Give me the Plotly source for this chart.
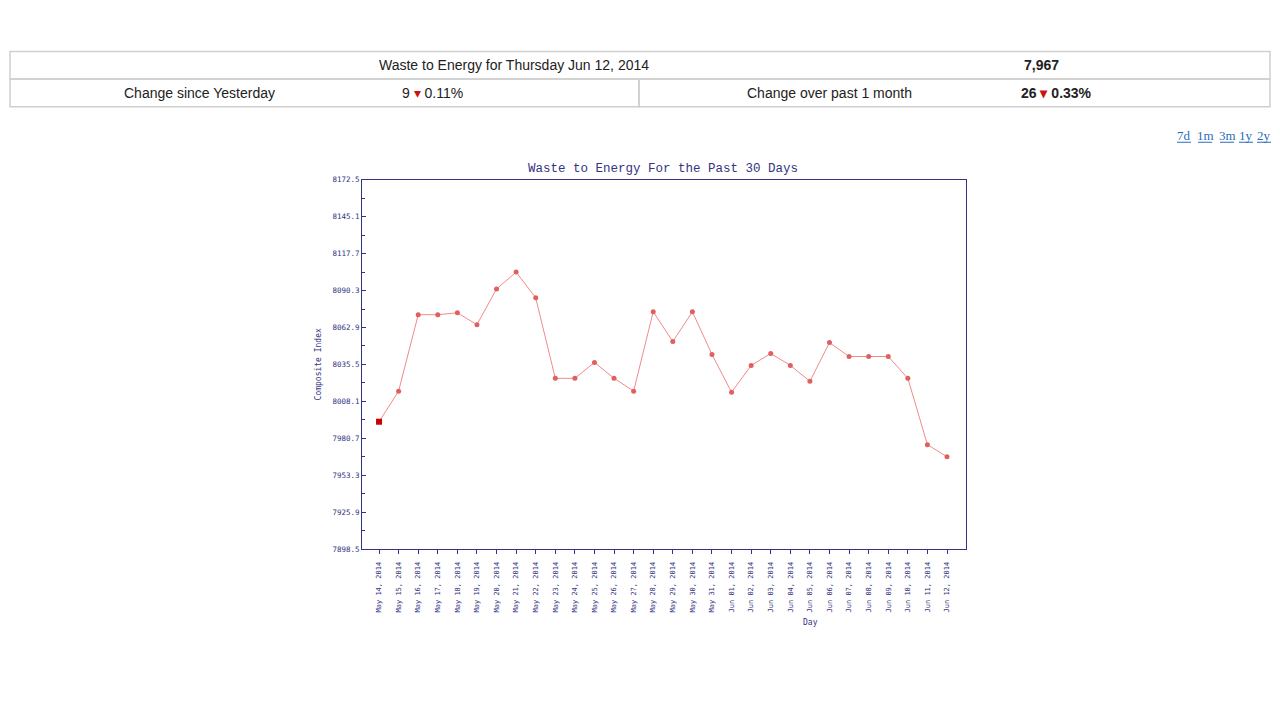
import plotly.graph_objects as go

# ---- data ----
days = ["May 14, 2014", "May 15, 2014", "May 16, 2014", "May 17, 2014", "May 18, 2014",
        "May 19, 2014", "May 20, 2014", "May 21, 2014", "May 22, 2014", "May 23, 2014",
        "May 24, 2014", "May 25, 2014", "May 26, 2014", "May 27, 2014", "May 28, 2014",
        "May 29, 2014", "May 30, 2014", "May 31, 2014", "Jun 01, 2014", "Jun 02, 2014",
        "Jun 03, 2014", "Jun 04, 2014", "Jun 05, 2014", "Jun 06, 2014", "Jun 07, 2014",
        "Jun 08, 2014", "Jun 09, 2014", "Jun 10, 2014", "Jun 11, 2014", "Jun 12, 2014"]
values = [7993.0, 8015.7, 8072.4, 8072.4, 8073.8, 8065.0, 8091.5, 8104.0, 8084.9, 8025.2,
          8025.2, 8037.0, 8025.2, 8015.7, 8074.6, 8052.5, 8074.6, 8042.9, 8014.9, 8034.8,
          8043.6, 8034.8, 8023.0, 8051.7, 8041.4, 8041.4, 8041.4, 8025.2, 7976.0, 7967.0]
y_ticks = [7898.5, 7925.9, 7953.3, 7980.7, 8008.1, 8035.5, 8062.9, 8090.3, 8117.7, 8145.1, 8172.5]
range_links = ["7d", "1m", "3m", "1y", "2y"]

W, H = 1280, 720
def px(x): return x / W
def py(y): return 1 - y / H

navy = "#33337f"
fig = go.Figure()
fig.add_trace(go.Scatter(
    x=days, y=values, mode="lines+markers",
    line=dict(color="#f08a8a", width=1),
    marker=dict(color="#e06060", size=5, symbol="circle"),
    hoverinfo="x+y", showlegend=False))
fig.add_trace(go.Scatter(
    x=days[:1], y=values[:1], mode="markers",
    marker=dict(color="#cc0000", size=6, symbol="square"),
    showlegend=False, hoverinfo="skip"))

fig.update_layout(
    width=W, height=H, margin=dict(l=0, r=0, t=0, b=0),
    paper_bgcolor="white", plot_bgcolor="white",
    xaxis=dict(domain=[px(362), px(966)], type="category", range=[-0.87, 29.97],
               showgrid=False, showline=True, linecolor=navy, linewidth=1, mirror=True,
               ticks="outside", ticklen=4, tickcolor=navy, tickangle=-90,
               ticklabelstandoff=5,
               tickfont=dict(family="DejaVu Sans Mono", size=7, color=navy),
               fixedrange=True),
    yaxis=dict(domain=[py(552), py(178)], range=[7898.5, 8172.5],
               tickvals=y_ticks, ticktext=[f"{v:.1f}" for v in y_ticks],
               showgrid=False, showline=True, linecolor=navy, linewidth=1, mirror=True,
               ticks="inside", ticklen=4, tickcolor=navy,
               minor=dict(ticks="inside", ticklen=3, tickcolor=navy, dtick=13.7, tick0=7898.5),
               tickfont=dict(family="DejaVu Sans Mono", size=7.5, color=navy),
               zeroline=False, fixedrange=True),
)

ann = []
# chart title and axis titles
ann.append(dict(x=px(663), y=py(167), text="Waste to Energy For the Past 30 Days",
                font=dict(family="Liberation Mono", size=12.5, color=navy)))
ann.append(dict(x=px(810), y=py(626), text="Day",
                font=dict(family="DejaVu Sans Mono", size=8, color=navy)))
ann.append(dict(x=px(318), y=py(365), text="Composite Index", textangle=-90,
                font=dict(family="DejaVu Sans Mono", size=8, color=navy)))

# summary table
tf = dict(family="Liberation Sans, Arial", size=14, color="#222222")
red = "<span style='color:#cc1111'>▾</span>"
table_texts = [
    dict(x=px(514), y=py(62), text="Waste to Energy for Thursday Jun 12, 2014"),
    dict(x=px(1041), y=py(62), text="<b>7,967</b>"),
    dict(x=px(199), y=py(90), text="Change since Yesterday"),
    dict(x=px(432), y=py(90), text=f"9 {red} 0.11%"),
    dict(x=px(829), y=py(90), text="Change over past 1 month"),
    dict(x=px(1056), y=py(90), text=f"<b>26 {red} 0.33%</b>"),
]
for a in table_texts:
    a["font"] = tf
ann += table_texts

link_x = [1184, 1205, 1227, 1246, 1264]
shapes = []
for lx, s in zip(link_x, range_links):
    ann.append(dict(x=px(lx), y=py(133), text=s,
                    font=dict(family="Liberation Serif", size=13, color="#2a6ebb")))
    shapes.append(dict(type="line", xref="paper", yref="paper", x0=px(lx - 7), x1=px(lx + 7),
                       y0=py(140), y1=py(140), line=dict(color="#2a6ebb", width=1)))

for a in ann:
    a.setdefault("xanchor", "center")
    a.update(xref="paper", yref="paper", showarrow=False, yanchor="middle")

bc = "#cfcfcf"
def rect(x0, y0, x1, y1):
    shapes.append(dict(type="rect", xref="paper", yref="paper", x0=px(x0), x1=px(x1),
                       y0=py(y1), y1=py(y0), line=dict(color=bc, width=1.5)))
rect(10, 48, 1270, 76)
rect(10, 76, 639, 104)
rect(639, 76, 1270, 104)

fig.update_layout(annotations=ann, shapes=shapes)
fig.write_html("out.html", config={"displayModeBar": False},
               post_script="document.body.style.margin='0';document.body.style.overflow='hidden';")
